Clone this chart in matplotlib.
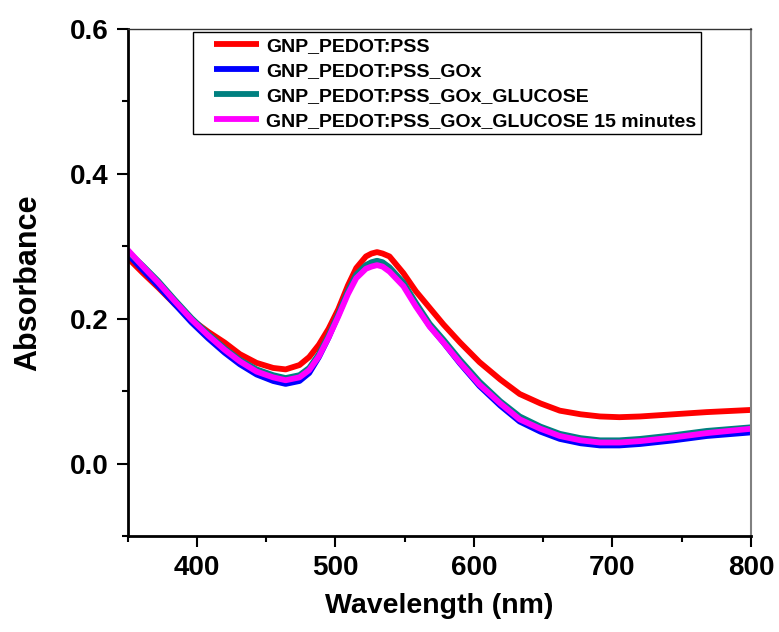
import matplotlib
matplotlib.use('Agg')
import matplotlib.pyplot as plt
from matplotlib.ticker import MultipleLocator
from matplotlib.legend_handler import HandlerLine2D

plt.rcParams['font.family'] = ['Liberation Sans', 'DejaVu Sans']
plt.rcParams['font.weight'] = 'bold'

# wavelength grid (nm)
wl = [350, 361, 372, 384, 396, 408, 420, 431, 443, 455, 464, 474, 481, 488, 495, 502,
      509, 515, 522, 526, 530, 534, 539, 549, 558, 568, 578, 590, 604, 619, 633, 648,
      662, 677, 691, 705, 720, 744, 768, 800]

# absorbance of each sample
pss = [0.284, 0.263, 0.243, 0.220, 0.199, 0.182, 0.167, 0.151, 0.139, 0.132, 0.130,
       0.136, 0.147, 0.164, 0.186, 0.213, 0.246, 0.270, 0.286, 0.290, 0.292, 0.290,
       0.286, 0.263, 0.238, 0.215, 0.192, 0.167, 0.140, 0.116, 0.096, 0.083, 0.073,
       0.068, 0.065, 0.064, 0.065, 0.068, 0.071, 0.074]
pss_gox = [0.289, 0.267, 0.245, 0.220, 0.195, 0.173, 0.153, 0.137, 0.123, 0.114, 0.110,
           0.114, 0.125, 0.147, 0.174, 0.205, 0.237, 0.260, 0.273, 0.277, 0.279, 0.277,
           0.269, 0.248, 0.219, 0.190, 0.167, 0.138, 0.107, 0.080, 0.058, 0.044, 0.034,
           0.028, 0.025, 0.025, 0.027, 0.032, 0.038, 0.043]
pss_gox_glu = [0.293, 0.273, 0.252, 0.226, 0.201, 0.179, 0.159, 0.143, 0.130, 0.122, 0.118,
               0.122, 0.132, 0.151, 0.177, 0.206, 0.238, 0.261, 0.274, 0.278, 0.280, 0.278,
               0.271, 0.250, 0.222, 0.193, 0.171, 0.143, 0.113, 0.086, 0.065, 0.051, 0.041,
               0.035, 0.032, 0.032, 0.034, 0.039, 0.045, 0.050]
pss_gox_glu15 = [0.295, 0.272, 0.250, 0.224, 0.199, 0.177, 0.157, 0.141, 0.127, 0.119, 0.115,
                 0.119, 0.129, 0.148, 0.174, 0.203, 0.234, 0.256, 0.269, 0.272, 0.274, 0.272,
                 0.265, 0.245, 0.217, 0.189, 0.167, 0.139, 0.109, 0.083, 0.061, 0.048, 0.038,
                 0.032, 0.029, 0.029, 0.031, 0.036, 0.042, 0.048]

labels = ['GNP_PEDOT:PSS', 'GNP_PEDOT:PSS_GOx', 'GNP_PEDOT:PSS_GOx_GLUCOSE',
          'GNP_PEDOT:PSS_GOx_GLUCOSE 15 minutes']
colors = ['#ff0000', '#0000ff', '#008080', '#ff00ff']


# legend line that leaves some blank room on its left, like Origin does
class PaddedLine(HandlerLine2D):
    def get_xdata(self, legend, xdescent, ydescent, width, height, fontsize):
        xd, xdm = super().get_xdata(legend, xdescent, ydescent, width, height, fontsize)
        start = -xdescent + 0.27 * width
        return [start, -xdescent + width], xdm


fig = plt.figure(figsize=(7.79, 6.32), dpi=100)
ax = fig.add_axes([0.164, 0.152, 0.800, 0.802])

for ys, lab, c in zip([pss, pss_gox, pss_gox_glu, pss_gox_glu15], labels, colors):
    ax.plot(wl, ys, '-', color=c, lw=4.2, label=lab,
            solid_joinstyle='round', solid_capstyle='butt')

ax.set_xlim(350, 800)
ax.set_ylim(-0.1, 0.6)
ax.xaxis.set_major_locator(MultipleLocator(100))
ax.xaxis.set_minor_locator(MultipleLocator(50))
ax.yaxis.set_major_locator(MultipleLocator(0.2))
ax.yaxis.set_minor_locator(MultipleLocator(0.1))
ax.yaxis.set_major_formatter(plt.FormatStrFormatter('%.1f'))

ax.tick_params(which='major', direction='out', length=8, width=1.5, labelsize=20, pad=6)
ax.tick_params(which='minor', direction='out', length=4, width=1.5)
ax.tick_params(axis='y', pad=6)
ax.tick_params(top=False, right=False, which='both')

ax.spines['left'].set_linewidth(2)
ax.spines['bottom'].set_linewidth(2)
ax.spines['top'].set_linewidth(1)
ax.spines['top'].set_color('#333333')
ax.spines['right'].set_linewidth(1.5)
ax.spines['right'].set_color('#808080')

ax.set_xlabel('Wavelength (nm)', fontsize=20.5, fontweight='bold')
ax.set_ylabel('Absorbance', fontsize=22, fontweight='bold')
ax.xaxis.set_label_coords(0.50, -0.112)
ax.yaxis.set_label_coords(-0.135, 0.5)

leg = ax.legend(loc='upper left', bbox_to_anchor=(0.104, 0.994), borderaxespad=0,
                fontsize=14, handlelength=3.15, labelspacing=0.38, handletextpad=0.4,
                fancybox=False, framealpha=1, edgecolor='black', borderpad=0.25,
                handler_map={plt.Line2D: PaddedLine()})
leg.get_frame().set_linewidth(1)
for t in leg.get_texts():
    t.set_fontweight('bold')

plt.savefig('out.png', dpi=100)
plt.close()
